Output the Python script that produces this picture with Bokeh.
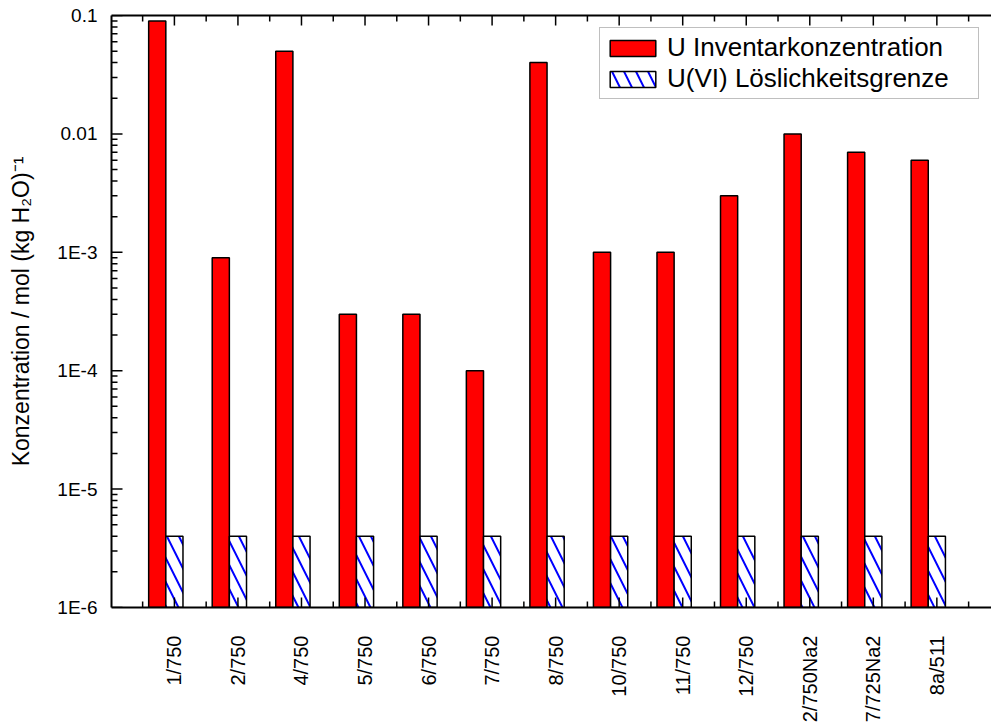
import numpy as np
from bokeh.plotting import figure
from bokeh.models import (ColumnDataSource, Range1d, LinearAxis, FixedTicker, LogTicker,
                          CustomJSTickFormatter, Legend, LegendItem)
from bokeh.embed import file_html
from bokeh.resources import INLINE

# ---- data ----
samples = ["1/750", "2/750", "4/750", "5/750", "6/750", "7/750", "8/750",
           "10/750", "11/750", "12/750", "2/750Na2", "7/725Na2", "8a/511"]
u_inventory = [0.09, 9e-4, 0.05, 3e-4, 3e-4, 1e-4, 0.04,
               1e-3, 1e-3, 3e-3, 0.01, 7e-3, 6e-3]
u_vi_limit = [4e-6, 4e-6, 4e-6, 4e-6, 4e-6, 4e-6, 4e-6,
              4e-6, 4e-6, 4e-6, 4e-6, 4e-6, 4e-6]
series_names = ["U Inventarkonzentration", "U(VI) Löslichkeitsgrenze"]
y_label = "Konzentration / mol (kg H\u2082O)\u207b\u00b9"
y_min, y_max = 1e-6, 0.1
x_start, x_end = -0.99, 12.86

FONT = "Liberation Sans"
W, H = 991, 726
B_LEFT, B_TOP, B_BOTTOM = 111, 15, 119
n = len(samples)
idx = np.arange(n)
bar_w = 0.27

src = ColumnDataSource(dict(x=idx, x_red=idx - bar_w, inv=u_inventory,
                            lim=u_vi_limit))

p = figure(width=W, height=H, output_backend="svg", toolbar_location=None,
           x_range=Range1d(x_start, x_end), y_range=Range1d(y_min, y_max),
           y_axis_type="log", min_border_left=B_LEFT, min_border_top=B_TOP,
           min_border_bottom=B_BOTTOM, min_border_right=0)
p.outline_line_color = None
p.xgrid.visible = False
p.ygrid.visible = False
p.background_fill_color = "white"
p.border_fill_color = "white"

r1 = p.vbar(x="x_red", top="inv", bottom=y_min, width=bar_w, source=src,
            fill_color="#ff0000", line_color="black", line_width=1.5)
r2 = p.vbar(x="x", top="lim", bottom=y_min, width=bar_w, source=src,
            fill_color="white", line_color="black", line_width=1.5,
            hatch_pattern="\\", hatch_color="#0000ff", hatch_weight=2,
            hatch_scale=24)

# ---- inward tick marks drawn inside the frame ----
frame_w = W - B_LEFT
frame_h = H - B_TOP - B_BOTTOM
px_x = frame_w / (x_end - x_start)               # pixels per x unit
px_dec = frame_h / np.log10(y_max / y_min)       # pixels per decade

def ylen(px):
    return 10.0 ** (px / px_dec)

minor_x = np.arange(-0.5, n + 0.5, 1.0)
decades = 10.0 ** np.arange(-6, 0)
minor_y = np.array([m * d for d in decades[:-1] for m in range(2, 10)])

tick_kw = dict(line_color="black", line_width=1.5)
# bottom and top
for xs, L in ((idx, 10), (minor_x, 6)):
    k = ylen(L)
    p.segment(x0=xs, y0=[y_min] * len(xs), x1=xs, y1=[y_min * k] * len(xs), **tick_kw)
    p.segment(x0=xs, y0=[y_max] * len(xs), x1=xs, y1=[y_max / k] * len(xs), **tick_kw)
# left
for ys, L in ((decades, 11), (minor_y, 6)):
    dx = L / px_x
    p.segment(x0=[x_start] * len(ys), y0=ys, x1=[x_start + dx] * len(ys), y1=ys, **tick_kw)

xticker = FixedTicker(ticks=list(idx), minor_ticks=list(minor_x))

def style_axis(ax):
    ax.axis_line_width = 2
    ax.axis_line_color = "black"
    ax.major_tick_in = 0
    ax.major_tick_out = 0
    ax.minor_tick_in = 0
    ax.minor_tick_out = 0
    ax.major_tick_line_color = None
    ax.minor_tick_line_color = None
    ax.major_label_text_font = FONT
    ax.major_label_text_font_size = "19px"
    ax.major_label_text_color = "black"

xa = p.xaxis[0]
xa.ticker = xticker
xa.major_label_overrides = {int(i): s for i, s in zip(idx, samples)}
style_axis(xa)
xa.major_label_text_font_size = "20px"
xa.major_label_orientation = np.pi / 2
xa.major_label_standoff = 28

ya = p.yaxis[0]
ya.ticker = LogTicker(num_minor_ticks=10, desired_num_ticks=6)
ya.formatter = CustomJSTickFormatter(code="""
const e = Math.round(Math.log10(tick));
if (e >= -2) { return tick.toFixed(-e); }
return "1E" + e;
""")
style_axis(ya)
ya.major_label_standoff = 14
ya.axis_label = y_label
ya.axis_label_text_font = FONT
ya.axis_label_text_font_size = "23px"
ya.axis_label_text_font_style = "normal"
ya.axis_label_text_color = "black"
ya.axis_label_standoff = 20

top = LinearAxis(ticker=xticker, formatter=CustomJSTickFormatter(code="return '';"))
style_axis(top)
top.major_label_standoff = 0
top.major_label_text_font_size = "1px"
p.add_layout(top, "above")

legend = Legend(items=[LegendItem(label=series_names[0], renderers=[r1]),
                       LegendItem(label=series_names[1], renderers=[r2])],
                location="top_right")
legend.margin = 12
legend.padding = 4
legend.spacing = 0
legend.glyph_width = 57
legend.glyph_height = 20
legend.label_standoff = 6
legend.label_width = 307
legend.label_text_font = FONT
legend.label_text_font_size = "26px"
legend.label_text_color = "black"
legend.border_line_color = "#808080"
legend.border_line_width = 1.5
legend.background_fill_color = "white"
legend.background_fill_alpha = 1.0
p.add_layout(legend)

open("out.html", "w").write(file_html(p, INLINE))
